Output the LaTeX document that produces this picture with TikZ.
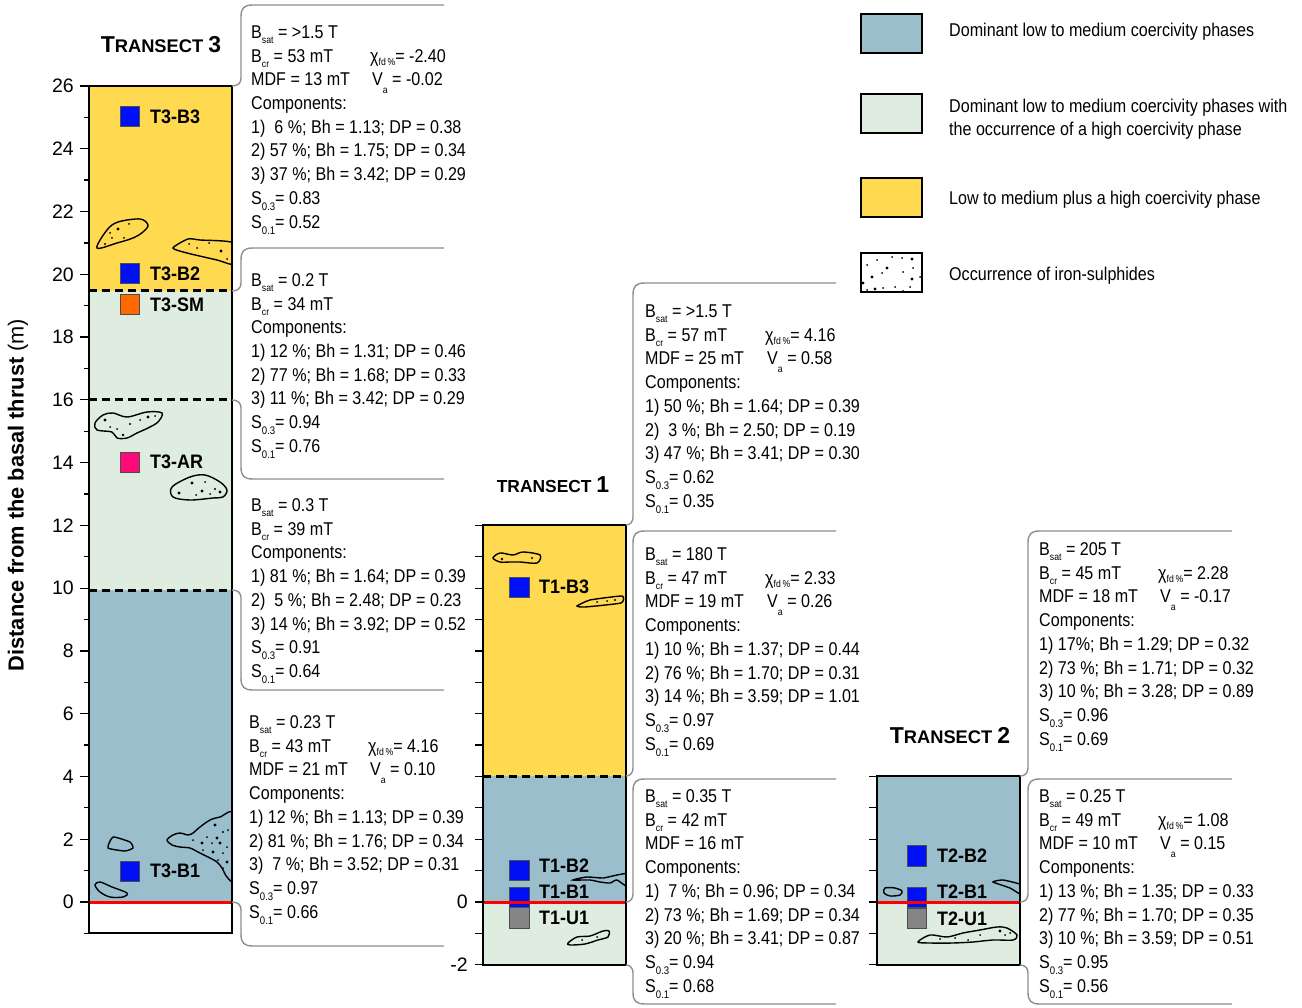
\documentclass[tikz,border=0pt]{standalone}
\usepackage{fontspec}
\setmainfont{Liberation Sans}[FakeStretch=0.87]
\newfontfamily\plainsans{Liberation Sans}
\newfontfamily\labelsans{Liberation Sans}[FakeStretch=0.92]
\definecolor{yel}{HTML}{FFD950}
\definecolor{blu}{HTML}{9BBECD}
\definecolor{grn}{HTML}{DFECE0}
\definecolor{brkgray}{HTML}{8E8E8E}
\definecolor{smpblue}{HTML}{0010F5}
\definecolor{smporange}{HTML}{FF6A00}
\definecolor{smpmagenta}{HTML}{FF0A78}
\definecolor{smpgray}{HTML}{858585}

% subscripts as set in the data panels
\newcommand\lowsub[1]{\raisebox{-5pt}{\fontsize{10}{10}\selectfont #1}}
\newcommand\ssub[1]{\raisebox{-6pt}{\fontsize{11}{11}\selectfont #1}}
\newcommand\vsub[1]{\raisebox{-7.5pt}{\fontsize{10}{10}\selectfont #1}}
\newcommand\chisub[1]{\raisebox{-3pt}{\fontsize{10}{10}\selectfont #1}}
\newcommand\chifd{χ\chisub{fd\,\%}}

% one panel of measurements: name, left x, first baseline, lines
\newcommand\panel[4]{%
  \foreach \ln [count=\i from 0] in {#4} {\node[txt] (#1-\i) at (#2, #3+23.7*\i) {\ln};}}

% bracket upper part: column x, bracket x, right x, top y, level y
\newcommand\toppart[5]{%
  \draw[brk] (#3,#4) -- (#2+12,#4) .. controls (#2+3,#4) and (#2,#4+3) .. (#2,#4+12)
    -- (#2,#5-8) .. controls (#2,#5-3) and (#2-3,#5) .. (#1,#5);}
% bracket lower part: column x, bracket x, right x, level y, bottom y
\newcommand\botpart[5]{%
  \draw[brk] (#1,#4) .. controls (#2-3,#4) and (#2,#4+3) .. (#2,#4+8)
    -- (#2,#5-12) .. controls (#2,#5-3) and (#2+3,#5) .. (#2+12,#5) -- (#3,#5);}

\begin{document}
\begin{tikzpicture}[x=1pt,y=-1pt,
  txt/.style={anchor=base west, inner sep=0pt, font=\fontsize{18.5}{22}\selectfont},
  axnum/.style={anchor=east, inner sep=0pt, font=\plainsans\fontsize{19.5}{22}\selectfont},
  brk/.style={draw=brkgray, line width=1.4pt},
  col/.style={draw=black, line width=1.3pt},
  sample/.style={draw=black!70, line width=1pt},
  smplabel/.style={anchor=west, inner sep=0pt, font=\labelsans\bfseries\fontsize{19.5}{22}\selectfont},
  title/.style={anchor=base, inner sep=0pt, font=\plainsans\bfseries},
  blob/.style={draw=black, line width=1.4pt},
  boundary/.style={draw=black, line width=3pt, dash pattern=on 8pt off 5pt},
  zeroline/.style={draw=red, line width=3pt},
  tick/.style={draw=black, line width=1.3pt}]
\useasboundingbox (0,0) rectangle (1302,1008);

% ---------- column fills ----------
% Transect 3
\fill[yel] (89,86) rectangle (232,291);
\fill[grn] (89,291) rectangle (232,590);
\fill[blu] (89,590) rectangle (232,902);
% Transect 1
\fill[yel] (483,525) rectangle (626,776);
\fill[blu] (483,776) rectangle (626,902);
\fill[grn] (483,902) rectangle (626,965);
% Transect 2
\fill[blu] (877,776) rectangle (1020,902);
\fill[grn] (877,902) rectangle (1020,965);

% ---------- iron-sulphide patches ----------
\begin{scope}
\clip (89,86) rectangle (232,933);
\draw[blob] plot[smooth cycle, tension=0.55] coordinates {(97,248) (107,230) (118,222) (140,219) (148,225) (143,232) (133,238) (117,243)};
\draw[blob] plot[smooth cycle, tension=0.4] coordinates {(173,248) (188,239) (200,240) (234,243) (234,264) (217,260) (187,253)};
\draw[blob] plot[smooth cycle, tension=0.55] coordinates {(95,423) (103,415) (113,413) (127,417) (147,412) (162,413) (158,422) (148,428) (137,433) (127,438) (117,438) (112,432) (97,430)};
\draw[blob] plot[smooth cycle, tension=0.55] coordinates {(172,487) (190,477) (205,475) (220,482) (227,490) (223,497) (213,498) (190,500) (173,497)};
\draw[blob] plot[smooth cycle, tension=0.3] coordinates {(108,848) (113,837) (130,842) (133,848) (125,851)};
\draw[blob] plot[smooth cycle, tension=0.55] coordinates {(95,885) (100,882) (112,887) (127,893) (123,897) (110,897) (100,892)};
\draw[blob] plot[smooth cycle, tension=0.5] coordinates {(167,840) (173,835) (180,833) (188,835) (193,833) (200,827) (210,820) (220,817) (234,815) (234,878) (227,877) (222,868) (217,862) (208,857) (198,852) (190,848) (180,847) (172,845)};
\foreach \a/\b/\r in {105/244/1.2, 118/229/1.7, 112/238/1, 124/238/1, 129/224/1, 110/233/1,
                   221/251/1.7, 197/248/1, 209/243/1, 189/244/1, 227/259/1,
                   105/420/1.6, 117/429/1, 130/424/1.2, 140/420/1, 148/417/1.6, 123/435/1.3, 110/427/1, 155/416/1,
                   192/483/1.6, 205/482/1, 202/491/1.7, 215/489/1.2, 179/493/1.6, 210/494/1, 196/495/1, 220/492/1.6,
                   215/825/1.6, 223/832/1.2, 207/837/1, 217/838/1.7, 228/830/1, 193/840/1, 202/843/1.6, 212/843/1,
                   220/843/1.6, 227/847/1, 203/850/1, 213/852/1.7, 223/853/1, 218/860/1, 227/862/1.6, 223/868/1}
  {\fill (\a,\b) circle[radius=\r];}
\end{scope}
\begin{scope}
\clip (483,525) rectangle (626,965);
\draw[blob] plot[smooth cycle, tension=0.5] coordinates {(493,558) (500,553) (513,555) (523,552) (540,555) (537,563) (520,562) (510,562) (500,562)};
\draw[blob] plot[smooth cycle, tension=0.3] coordinates {(577,606) (590,600) (622,596) (621,603) (585,607)};
\draw[blob] plot[smooth cycle, tension=0.4] coordinates {(573,880) (587,877) (603,878) (617,875) (628,874) (628,887) (617,880) (610,883) (600,882) (590,880)};
\draw[blob] plot[smooth cycle, tension=0.5] coordinates {(568,943) (577,937) (590,936) (603,931) (609,931) (608,937) (598,940) (585,944) (570,945)};
\foreach \a/\b/\r in {502/559/1.3, 532/558/1.2, 597/602/1, 607/601/1, 615/600/1.2, 582/940/1, 597/937/1}
  {\fill (\a,\b) circle[radius=\r];}
\end{scope}
\begin{scope}
\clip (877,776) rectangle (1020,965);
\draw[blob] plot[smooth cycle, tension=0.5] coordinates {(885,888) (895,888) (902,891) (900,895) (890,896) (884,893)};
\draw[blob] plot[smooth cycle, tension=0.3] coordinates {(993,882) (1003,880) (1022,885) (1022,895) (1010,888)};
\draw[blob] plot[smooth cycle, tension=0.5] coordinates {(918,942) (930,935) (947,937) (963,933) (980,930) (997,927) (1007,928) (1017,935) (1013,940) (993,940) (973,942) (953,943) (930,943)};
\foreach \a/\b/\r in {940/939/1, 955/938/1, 980/935/1, 1000/931/1.6, 1005/935/1, 968/940/1, 1010/933/1}
  {\fill (\a,\b) circle[radius=\r];}
\end{scope}

% ---------- unit boundaries ----------
\draw[boundary] (89,291) -- (232,291);
\draw[boundary] (89,400) -- (232,400);
\draw[boundary] (89,590) -- (232,590);
\draw[boundary] (483,776) -- (626,776);

% ---------- samples ----------
\draw[sample, fill=smpblue] (120,107) rectangle (139,127);
\draw[sample, fill=smpblue] (120,264) rectangle (139,284);
\draw[sample, fill=smporange] (120,295) rectangle (139,315);
\draw[sample, fill=smpmagenta] (120,452) rectangle (139,472);
\draw[sample, fill=smpblue] (120,861) rectangle (139,881);
\draw[sample, fill=smpblue] (509,577) rectangle (529,597);
\draw[sample, fill=smpblue] (509,860) rectangle (529,880);
\draw[sample, fill=smpblue] (509,887) rectangle (529,907);
\draw[sample, fill=smpgray] (509,907) rectangle (529,928);
\draw[sample, fill=smpblue] (907,845) rectangle (926,866);
\draw[sample, fill=smpblue] (907,887) rectangle (926,907);
\draw[sample, fill=smpgray] (907,908) rectangle (926,928);

% zero level (basal thrust), drawn over the samples
\draw[zeroline] (89,902) -- (232,902);
\draw[zeroline] (483,902) -- (626,902);
\draw[zeroline] (877,902) -- (1020,902);

\node[smplabel] (t3b3) at (150,117) {T3-B3};
\node[smplabel] (t3b2) at (150,274) {T3-B2};
\node[smplabel] (t3sm) at (150,305) {T3-SM};
\node[smplabel] (t3ar) at (150,462) {T3-AR};
\node[smplabel] (t3b1) at (150,871) {T3-B1};
\node[smplabel] (t1b3) at (539,587) {T1-B3};
\node[smplabel] (t1b2) at (539,866) {T1-B2};
\node[smplabel] (t1b1) at (539,892) {T1-B1};
\node[smplabel] (t1u1) at (539,918) {T1-U1};
\node[smplabel] (t2b2) at (937,856) {T2-B2};
\node[smplabel] (t2b1) at (937,892) {T2-B1};
\node[smplabel] (t2u1) at (937,919) {T2-U1};

% ---------- column outlines and axes ----------
\draw[col] (89,86) rectangle (232,933);
\draw[col] (483,525) rectangle (626,965);
\draw[col] (877,776) rectangle (1020,965);
\foreach \m in {-1,...,26} {
  \pgfmathsetmacro\yy{902-31.385*\m}
  \pgfmathsetmacro\tl{ifthenelse(mod(\m+100,2)==0,9,5)}
  \draw[tick] (89-\tl,\yy) -- (89,\yy);}
\foreach \m in {0,2,...,26} {
  \pgfmathsetmacro\yy{902-31.385*\m}
  \node[axnum] (ax3-\m) at (74,\yy) {\m};}
\foreach \m in {-2,...,12} {
  \pgfmathsetmacro\yy{902-31.385*\m}
  \draw[tick] (475,\yy) -- (483,\yy);}
\foreach \m in {-2,...,4} {
  \pgfmathsetmacro\yy{902-31.385*\m}
  \draw[tick] (869,\yy) -- (877,\yy);}
\node[axnum] (ax1-0) at (468,902) {0};
\node[axnum] (ax1-m2) at (468,965) {-2};

\node[rotate=90, inner sep=0pt, font=\plainsans\bfseries\fontsize{21.8}{24}\selectfont] (ytitle) at (18,495)
  {Distance from the basal thrust \mdseries(m)};

% ---------- transect titles ----------
\node[title] (tr3) at (161,53) {\fontsize{23}{24}\selectfont T\fontsize{18.3}{20}\selectfont RANSECT \fontsize{23}{24}\selectfont 3};
\node[title] (tr1) at (553,492) {\fontsize{17.4}{20}\selectfont TRANSECT \fontsize{23}{24}\selectfont 1};
\node[title] (tr2) at (950,743) {\fontsize{23}{24}\selectfont T\fontsize{18.3}{20}\selectfont RANSECT \fontsize{23}{24}\selectfont 2};

% ---------- brackets ----------
\toppart{232}{241}{444}{5}{86}
\toppart{232}{241}{444}{248}{291}
\botpart{232}{241}{444}{400}{479}
\botpart{232}{241}{444}{590}{690}
\botpart{232}{241}{444}{902}{946}
\toppart{626}{633}{836}{283}{525}
\toppart{626}{633}{836}{531}{776}
\toppart{626}{633}{836}{779}{902}
\botpart{626}{633}{836}{965}{1004}
\toppart{1020}{1028}{1232}{531}{776}
\toppart{1020}{1028}{1232}{779}{902}
\botpart{1020}{1028}{1232}{965}{1004}

% ---------- measurement panels ----------
\panel{pa}{251}{38.5}{{B\lowsub{sat} = >1.5 T}, {B\lowsub{cr} = 53 mT}, {MDF = 13 mT}, {Components:},
  {1)\ \ 6 \%; Bh = 1.13; DP = 0.38}, {2) 57 \%; Bh = 1.75; DP = 0.34}, {3) 37 \%; Bh = 3.42; DP = 0.29},
  {S\ssub{0.3}= 0.83}, {S\ssub{0.1}= 0.52}}
\node[txt] (pa-chi) at (370,62.2) {\chifd= -2.40};
\node[txt] (pa-va) at (372,85.9) {V\vsub{a} = -0.02};

\panel{pb}{251}{286.5}{{B\lowsub{sat} = 0.2 T}, {B\lowsub{cr} = 34 mT}, {Components:},
  {1) 12 \%; Bh = 1.31; DP = 0.46}, {2) 77 \%; Bh = 1.68; DP = 0.33}, {3) 11 \%; Bh = 3.42; DP = 0.29},
  {S\ssub{0.3}= 0.94}, {S\ssub{0.1}= 0.76}}

\panel{pc}{251}{511.5}{{B\lowsub{sat} = 0.3 T}, {B\lowsub{cr} = 39 mT}, {Components:},
  {1) 81 \%; Bh = 1.64; DP = 0.39}, {2)\ \ 5 \%; Bh = 2.48; DP = 0.23}, {3) 14 \%; Bh = 3.92; DP = 0.52},
  {S\ssub{0.3}= 0.91}, {S\ssub{0.1}= 0.64}}

\panel{pd}{249}{728.5}{{B\lowsub{sat} = 0.23 T}, {B\lowsub{cr} = 43 mT}, {MDF = 21 mT}, {Components:},
  {1) 12 \%; Bh = 1.13; DP = 0.39}, {2) 81 \%; Bh = 1.76; DP = 0.34}, {3)\ \ 7 \%; Bh = 3.52; DP = 0.31},
  {S\ssub{0.3}= 0.97}, {S\ssub{0.1}= 0.66}}
\node[txt] (pd-chi) at (368,752.2) {\chifd= 4.16};
\node[txt] (pd-va) at (370,775.9) {V\vsub{a} = 0.10};

\panel{pe}{645}{317.5}{{B\lowsub{sat} = >1.5 T}, {B\lowsub{cr} = 57 mT}, {MDF = 25 mT}, {Components:},
  {1) 50 \%; Bh = 1.64; DP = 0.39}, {2)\ \ 3 \%; Bh = 2.50; DP = 0.19}, {3)\ 47 \%; Bh = 3.41; DP = 0.30},
  {S\ssub{0.3}= 0.62}, {S\ssub{0.1}= 0.35}}
\node[txt] (pe-chi) at (765,341.2) {\chifd= 4.16};
\node[txt] (pe-va) at (767,364.9) {V\vsub{a} = 0.58};

\panel{pf}{645}{560.5}{{B\lowsub{sat} = 180 T}, {B\lowsub{cr} = 47 mT}, {MDF = 19 mT}, {Components:},
  {1) 10 \%; Bh = 1.37; DP = 0.44}, {2) 76 \%; Bh = 1.70; DP = 0.31}, {3) 14 \%; Bh = 3.59; DP = 1.01},
  {S\ssub{0.3}= 0.97}, {S\ssub{0.1}= 0.69}}
\node[txt] (pf-chi) at (765,584.2) {\chifd= 2.33};
\node[txt] (pf-va) at (767,607.9) {V\vsub{a} = 0.26};

\panel{pg}{645}{802.5}{{B\lowsub{sat} = 0.35 T}, {B\lowsub{cr} = 42 mT}, {MDF = 16 mT}, {Components:},
  {1)\ \ 7 \%; Bh = 0.96; DP = 0.34}, {2) 73 \%; Bh = 1.69; DP = 0.34}, {3) 20 \%; Bh = 3.41; DP = 0.87},
  {S\ssub{0.3}= 0.94}, {S\ssub{0.1}= 0.68}}

\panel{ph}{1039}{555.5}{{B\lowsub{sat} = 205 T}, {B\lowsub{cr} = 45 mT}, {MDF = 18 mT}, {Components:},
  {1) 17\%; Bh = 1.29; DP = 0.32}, {2) 73 \%; Bh = 1.71; DP = 0.32}, {3) 10 \%; Bh = 3.28; DP = 0.89},
  {S\ssub{0.3}= 0.96}, {S\ssub{0.1}= 0.69}}
\node[txt] (ph-chi) at (1158,579.2) {\chifd= 2.28};
\node[txt] (ph-va) at (1160,602.9) {V\vsub{a} = -0.17};

\panel{pi}{1039}{802.5}{{B\lowsub{sat} = 0.25 T}, {B\lowsub{cr} = 49 mT}, {MDF = 10 mT}, {Components:},
  {1) 13 \%; Bh = 1.35; DP = 0.33}, {2) 77 \%; Bh = 1.70; DP = 0.35}, {3) 10 \%; Bh = 3.59; DP = 0.51},
  {S\ssub{0.3}= 0.95}, {S\ssub{0.1}= 0.56}}
\node[txt] (pi-chi) at (1158,826.2) {\chifd= 1.08};
\node[txt] (pi-va) at (1160,849.9) {V\vsub{a} = 0.15};

% ---------- legend ----------
\draw[col, fill=blu] (861,14) rectangle (922,53);
\draw[col, fill=grn] (861,94) rectangle (922,133);
\draw[col, fill=yel] (861,178) rectangle (922,217);
\draw[col] (861,253) rectangle (922,292);
\foreach \a/\b/\r in {867/265/1, 877/260/1, 892/257/1, 902/258/1, 912/259/1.6, 887/268/1.6, 913/268/1,
                   872/277/1.6, 882/273/1, 903/272/1, 912/279/1.6, 920/277/1, 863/283/1.6, 875/289/1.6,
                   883/288/1, 895/287/1, 910/287/1, 903/291/1, 867/290/1}
  {\fill (\a,\b) circle[radius=\r];}
\node[txt] (lg1) at (949,36.5) {Dominant low to medium coercivity phases};
\node[txt] (lg2a) at (949,112.5) {Dominant low to medium coercivity phases with};
\node[txt] (lg2b) at (949,135.5) {the occurrence of a high coercivity phase};
\node[txt] (lg3) at (949,204.5) {Low to medium plus a high coercivity phase};
\node[txt] (lg4) at (949,280.5) {Occurrence of iron-sulphides};
\end{tikzpicture}
\end{document}
